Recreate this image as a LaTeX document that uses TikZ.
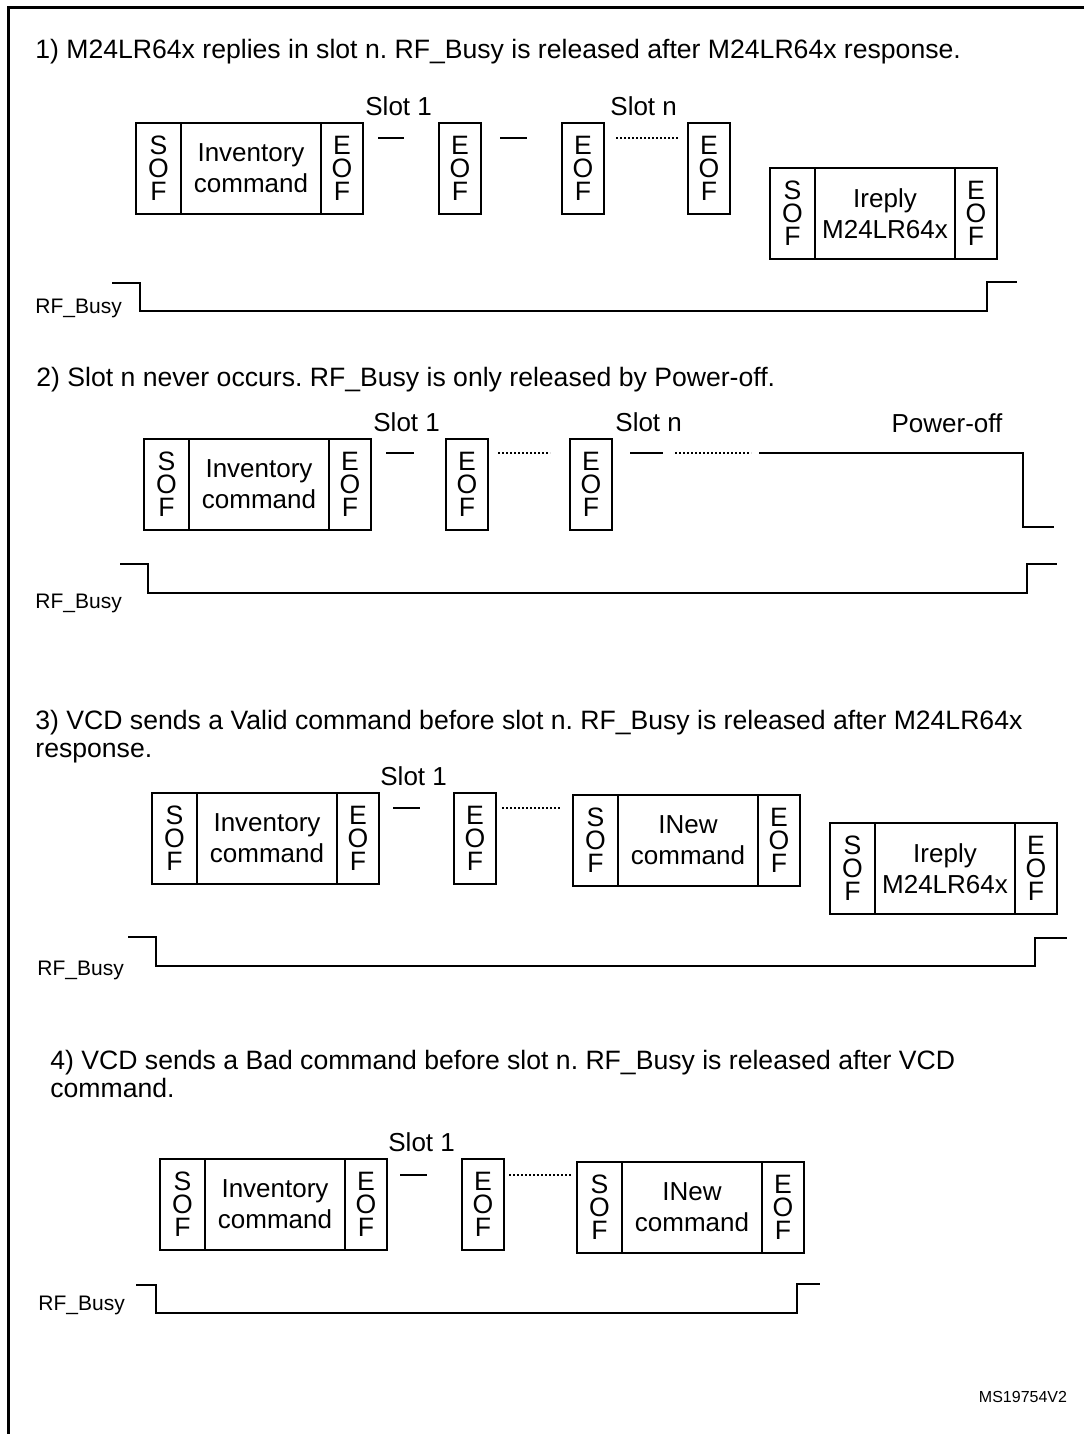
\documentclass[tikz,border=0pt]{standalone}
\usepackage{fontspec}
\setmainfont{Liberation Sans}
\frenchspacing
\usetikzlibrary{positioning,calc}
\tikzset{
  cell/.style={draw, line width=0.9pt, outer sep=0pt, inner sep=0pt, minimum height=45.5pt, align=center},
  sofcell/.style={cell, minimum width=22.5pt, font=\fontsize{13.3}{11.5}\selectfont},
  eofcell/.style={cell, minimum width=21pt, font=\fontsize{13.3}{11.5}\selectfont},
  bodycell/.style={cell, minimum width=70pt, font=\fontsize{13}{15.5}\selectfont},
  slotlabel/.style={inner sep=0pt, font=\fontsize{13}{15}\selectfont},
  heading/.style={inner sep=0pt, align=left, font=\fontsize{13.3}{14}\selectfont},
  busylabel/.style={inner sep=0pt, font=\fontsize{10.5}{12}\selectfont},
  busyline/.style={line width=0.9pt},
  gapline/.style={line width=0.9pt},
  gapdots/.style={line width=0.6pt, dash pattern=on 1.1pt off 0.9pt},
}
\begin{document}
\begin{tikzpicture}[x=0.5pt, y=-0.5pt]
    \useasboundingbox (0,0) rectangle (1084,1434);
    \draw[line width=1.5pt] (1084,8) -- (8,8) -- (8,1434);

    % 1) reply in slot n
    \node[heading, anchor=west] (h1) at (35,52) {1) M24LR64x replies in slot n. RF\_Busy is released after M24LR64x response.};
    \node[sofcell, anchor=north west] (sA) at (136,123) {S\\O\\F};
    \node[bodycell, right=0pt of sA] (cA) {Inventory\\command};
    \node[eofcell, right=0pt of cA] (eA) {E\\O\\F};
    \node[eofcell, right=38pt of eA] (eA1) {E\\O\\F};
    \node[eofcell, right=40.5pt of eA1] (eA2) {E\\O\\F};
    \node[eofcell, right=42pt of eA2] (eA3) {E\\O\\F};
    \node[sofcell, anchor=north west] (rA) at (770,168) {S\\O\\F};
    \node[bodycell, right=0pt of rA] (mA) {Ireply\\M24LR64x};
    \node[eofcell, right=0pt of mA] (fA) {E\\O\\F};
    \node[slotlabel, anchor=south west] (slA1) at ($(eA.north east)+(2,-7)$) {Slot 1};
    \node[slotlabel, anchor=south west] (slAn) at ($(eA2.north east)+(6,-7)$) {Slot n};
    \draw[gapline] ($(eA.north east)+(15,15)$) -- ++(26,0);
    \draw[gapline] ($(eA1.north east)+(19,15)$) -- ++(27,0);
    \draw[gapdots] ($(eA2.north east)+(12,15)$) -- ++(62,0);
    \node[busylabel, anchor=west] (bA) at (35,308) {RF\_Busy};
    \draw[busyline] (112,283) -| (140,311) -| (987,282) -- (1017,282);

    % 2) slot n never occurs
    \node[heading, anchor=west] (h2) at (36,380) {2) Slot n never occurs. RF\_Busy is only released by Power-off.};
    \node[sofcell, anchor=north west] (sB) at (144,439) {S\\O\\F};
    \node[bodycell, right=0pt of sB] (cB) {Inventory\\command};
    \node[eofcell, right=0pt of cB] (eB) {E\\O\\F};
    \node[eofcell, right=37.5pt of eB] (eB1) {E\\O\\F};
    \node[eofcell, right=41pt of eB1] (eB2) {E\\O\\F};
    \node[slotlabel, anchor=south west] (slB1) at ($(eB.north east)+(2,-7)$) {Slot 1};
    \node[slotlabel, anchor=south west] (slBn) at ($(eB2.north east)+(3,-7)$) {Slot n};
    \node[slotlabel] (pwr) at (947,423) {Power-off};
    \draw[gapline] ($(eB.north east)+(15,14)$) -- ++(28,0);
    \draw[gapdots] ($(eB1.north east)+(10,14)$) -- ++(52,0);
    \draw[gapline] ($(eB2.north east)+(18,14)$) -- ++(33,0);
    \draw[gapdots] ($(eB2.north east)+(63,14)$) -- ++(76,0);
    \draw[busyline] (759,453) -| (1023,527) -- (1054,527);
    \node[busylabel, anchor=west] (bB) at (35,603) {RF\_Busy};
    \draw[busyline] (120,564) -| (148,593) -| (1027,564) -- (1057,564);

    % 3) valid command before slot n
    \node[heading, anchor=west] (h3) at (35,737) {3) VCD sends a Valid command before slot n. RF\_Busy is released after M24LR64x\\response.};
    \node[sofcell, anchor=north west] (sC) at (152,793) {S\\O\\F};
    \node[bodycell, right=0pt of sC] (cC) {Inventory\\command};
    \node[eofcell, right=0pt of cC] (eC) {E\\O\\F};
    \node[eofcell, right=37.5pt of eC] (eC1) {E\\O\\F};
    \node[sofcell, anchor=north west] (nC) at (573,795) {S\\O\\F};
    \node[bodycell, right=0pt of nC] (kC) {INew\\command};
    \node[eofcell, right=0pt of kC] (gC) {E\\O\\F};
    \node[sofcell, anchor=north west] (rC) at (830,823) {S\\O\\F};
    \node[bodycell, right=0pt of rC] (mC) {Ireply\\M24LR64x};
    \node[eofcell, right=0pt of mC] (fC) {E\\O\\F};
    \node[slotlabel, anchor=south west] (slC1) at ($(eC.north east)+(1,-7)$) {Slot 1};
    \draw[gapline] ($(eC.north east)+(14,15)$) -- ++(27,0);
    \draw[gapdots] ($(eC1.north east)+(6,15)$) -- ++(58,0);
    \node[busylabel, anchor=west] (bC) at (37,970) {RF\_Busy};
    \draw[busyline] (128,937) -| (156,966) -| (1035,938) -- (1067,938);

    % 4) bad command before slot n
    \node[heading, anchor=west] (h4) at (50,1074) {4) VCD sends a Bad command before slot n. RF\_Busy is released after VCD\\command.};
    \node[sofcell, anchor=north west] (sD) at (160,1159) {S\\O\\F};
    \node[bodycell, right=0pt of sD] (cD) {Inventory\\command};
    \node[eofcell, right=0pt of cD] (eD) {E\\O\\F};
    \node[eofcell, right=37.5pt of eD] (eD1) {E\\O\\F};
    \node[sofcell, anchor=north west] (nD) at (577,1162) {S\\O\\F};
    \node[bodycell, right=0pt of nD] (kD) {INew\\command};
    \node[eofcell, right=0pt of kD] (gD) {E\\O\\F};
    \node[slotlabel, anchor=south west] (slD1) at ($(eD.north east)+(1,-7)$) {Slot 1};
    \draw[gapline] ($(eD.north east)+(13,16)$) -- ++(27,0);
    \draw[gapdots] ($(eD1.north east)+(5,16)$) -- ++(62,0);
    \node[busylabel, anchor=west] (bD) at (38,1305) {RF\_Busy};
    \draw[busyline] (136,1285) -| (156,1313) -| (797,1284) -- (820,1284);

    \node[inner sep=0pt, font=\fontsize{8}{10}\selectfont] (ref) at (1023,1397) {MS19754V2};
\end{tikzpicture}
\end{document}
